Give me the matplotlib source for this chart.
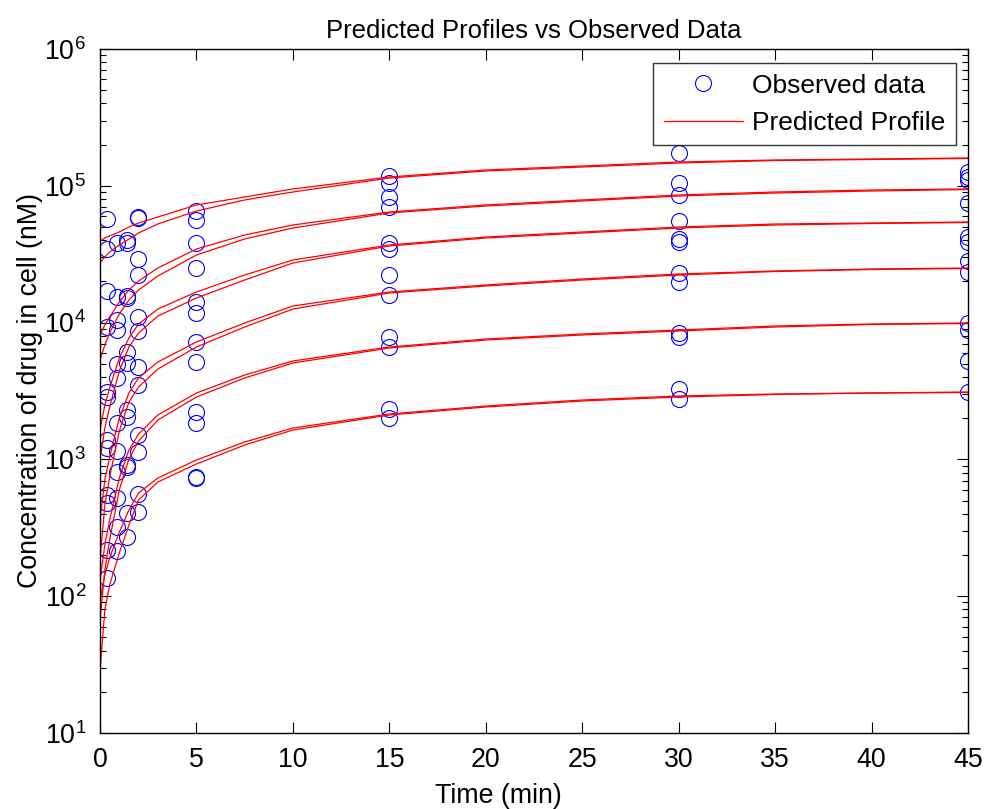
import numpy as np
import matplotlib
matplotlib.use("Agg")
import matplotlib.pyplot as plt
from matplotlib.ticker import LogLocator, NullFormatter

plt.rcParams['font.family'] = ['Liberation Sans', 'DejaVu Sans']
plt.rcParams['mathtext.fontset'] = 'custom'
plt.rcParams['mathtext.rm'] = 'Liberation Sans'

# ---------------- Observed data (nM) ----------------
obs_times = [0.35, 0.9, 1.4, 1.95, 5, 15, 30, 45]
obs_conc = [
    [57200, 34500, 17000, 9290, 3110, 2860, 1390, 1210, 550, 480, 218, 136],
    [38200, 15400, 10400, 8830, 4980, 3940, 1850, 1150, 809, 522, 321, 214],
    [40200, 38200, 15600, 15100, 6100, 5070, 2300, 2040, 910, 880, 406, 271],
    [59200, 58200, 29200, 22300, 11000, 8690, 4730, 3500, 1510, 1130, 558, 413],
    [65400, 56200, 38200, 25100, 14100, 11700, 7210, 5150, 2220, 1850, 743, 735],
    [118000, 104800, 82800, 70000, 38200, 34500, 22300, 15900, 7850, 6640, 2340, 2010],
    [173800, 104800, 85700, 55300, 40800, 38800, 23000, 19800, 8400, 7850, 3270, 2770],
    [126200, 115900, 110300, 74900, 42200, 38800, 28200, 23400, 9940, 8830, 5240, 3110],
]

# ---------------- Predicted profiles (two fits per dose) ----------------
pred_times = [0, 0.25, 0.5, 1, 1.5, 2, 3, 5, 7.5, 10, 15, 20, 25, 30, 35, 40, 45]

dose1_a = [39500, 41500, 43000, 46000, 50000, 53500, 59200, 72400, 82800, 94800,
           116000, 130500, 139600, 149300, 154400, 157000, 159700]
dose1_b = [27300, 30200, 32800, 36900, 40800, 45200, 52600, 65400, 78800, 90100,
           114000, 128300, 137200, 146800, 153100, 155700, 158400]

dose2_a = [8120, 9600, 10990, 14150, 17310, 20140, 25070, 34510, 43690, 51700,
           64350, 72400, 78800, 85640, 90100, 93170, 94800]
dose2_b = [5330, 6860, 8400, 11560, 14630, 17310, 21910, 31210, 40850, 49150,
           63270, 71170, 77440, 84220, 88600, 91620, 93980]

dose3_a = [1640, 2500, 3326, 5511, 7717, 9768, 12570, 16740, 22280, 28690,
           36930, 42240, 45960, 49960, 52570, 53460, 54370]
dose3_b = [990, 1696, 2415, 4429, 6631, 8395, 11170, 15130, 20480, 27270,
           36290, 41530, 45190, 49150, 51700, 53000, 53910]

dose4_a = [361, 707, 1041, 2007, 3058, 3936, 5152, 7215, 9934, 13220,
           16740, 18830, 20830, 22660, 23840, 24650, 25070]
dose4_b = [184, 464, 743, 1613, 2628, 3382, 4580, 6631, 9286, 12570,
           16460, 18510, 20480, 22280, 23630, 24440, 24860]

dose5_a = [131, 237, 361, 731, 1171, 1533, 2112, 3058, 4140, 5240,
           6631, 7588, 8256, 8831, 9443, 9768, 9934]
dose5_b = [67, 155, 258, 598, 1007, 1363, 1941, 2858, 3936, 5067,
           6520, 7461, 8120, 8681, 9286, 9685, 9849]

dose6_a = [93.8, 142.9, 190.2, 294.6, 426.7, 568.1, 731, 990, 1341, 1696,
           2147, 2457, 2718, 2908, 3007, 3058, 3110]
dose6_b = [27.9, 79.3, 120.8, 206.9, 331.5, 505, 683.6, 925.6, 1274, 1640,
           2112, 2415, 2673, 2858, 2982, 3058, 3083]

predicted = [dose1_a, dose1_b, dose2_a, dose2_b, dose3_a, dose3_b,
             dose4_a, dose4_b, dose5_a, dose5_b, dose6_a, dose6_b]

# ---------------- Plotting ----------------
fig = plt.figure(figsize=(9.86, 8.09), dpi=100)
ax = fig.add_axes([100 / 986, 76 / 809, 868 / 986, 684 / 809])

for i, t in enumerate(obs_times):
    ax.plot([t] * len(obs_conc[i]), obs_conc[i], 'o', color='blue', mfc='none',
            ms=11.5, mew=0.8, label='Observed data' if i == 0 else None)

for j, curve in enumerate(predicted):
    ax.plot(pred_times, curve, '-', color='red', lw=0.9,
            label='Predicted Profile' if j == 0 else None)

ax.set_yscale('log')
ax.set_xlim(0, 45)
ax.set_ylim(10, 1e6)
ax.set_xticks(range(0, 46, 5))
ax.yaxis.set_major_locator(LogLocator(base=10, numticks=10))
ax.yaxis.set_minor_locator(LogLocator(base=10, subs=np.arange(2, 10), numticks=20))
ax.yaxis.set_minor_formatter(NullFormatter())

ax.tick_params(which='both', direction='in', top=True, right=True,
               labelsize=19.3, width=0.8, colors='black')
ax.tick_params(which='major', length=8, pad=10)
ax.tick_params(which='minor', length=4.5)
for s in ax.spines.values():
    s.set_linewidth(1.0)

ax.set_xlabel('Time (min)', fontsize=19.3, labelpad=7)
ax.xaxis.label.set_x(0.459)
ax.set_ylabel('Concentration of drug in cell (nM)', fontsize=19.3, labelpad=1)
ax.set_title('Predicted Profiles vs Observed Data', fontsize=18.5, pad=8)

leg = ax.legend(loc='upper right', bbox_to_anchor=(956 / 986, (809 - 63) / 809),
                bbox_transform=fig.transFigure, borderaxespad=0, fontsize=19,
                frameon=True, fancybox=False, handlelength=3.0, handletextpad=0.35,
                labelspacing=0.5, borderpad=0.4)
leg.get_frame().set_edgecolor('black')
leg.get_frame().set_linewidth(1.0)

fig.savefig('out.png', dpi=100)
